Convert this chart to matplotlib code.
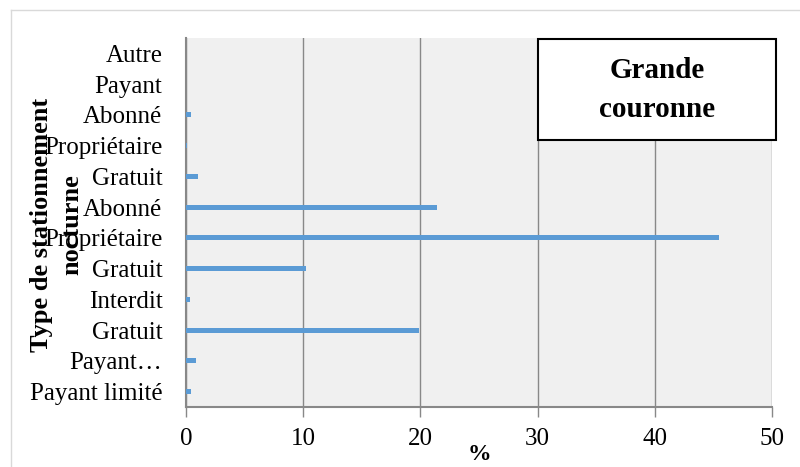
import matplotlib.pyplot as plt
from matplotlib.patches import Rectangle
from matplotlib.lines import Line2D

# categories from bottom to top
categories = ["Payant limité", "Payant…", "Gratuit", "Interdit", "Gratuit",
              "Propriétaire", "Abonné", "Gratuit", "Propriétaire", "Abonné",
              "Payant", "Autre"]
values = [0.4, 0.85, 19.9, 0.3, 10.2, 45.5, 21.4, 1.0, 0.1, 0.4, 0.0, 0.0]
xticks = [0, 10, 20, 30, 40, 50]

plt.rcParams['font.family'] = ['Liberation Serif', 'DejaVu Serif']

fig = plt.figure(figsize=(8, 4.67), dpi=100)
ax = fig.add_axes([186 / 800, 1 - 407 / 467, (772 - 186) / 800, (407 - 38) / 467])

ypos = list(range(len(categories)))
ax.barh(ypos, values, height=0.17, color="#5B9BD5", zorder=3)
ax.set_ylim(-0.5, len(categories) - 0.5)
ax.set_xlim(0, 50)
ax.set_facecolor("#F0F0F0")

ax.set_xticks(xticks)
ax.set_xticklabels([str(t) for t in xticks], fontsize=18)
ax.set_yticks(ypos)
ax.set_yticklabels(categories, fontsize=18)
ax.tick_params(axis='y', length=0, pad=17)
ax.tick_params(axis='x', length=7, width=1, color="#888888", direction='out', pad=8)
ax.grid(axis='x', color="#888888", linewidth=1, zorder=1)
for s in ["top", "right"]:
    ax.spines[s].set_visible(False)
for s in ["left", "bottom"]:
    ax.spines[s].set_color("#888888")
    ax.spines[s].set_linewidth(1.5)

ax.set_xlabel("%", fontsize=17, fontweight='bold', labelpad=-4)
fig.text(57 / 800, 1 - 225 / 467, "Type de stationnement\nnocturne", rotation=90,
         ha='center', va='center', fontsize=19, fontweight='bold', linespacing=1.4)

# title box
box = Rectangle((538 / 800, 1 - 140 / 467), (776 - 538) / 800, (140 - 39) / 467,
                transform=fig.transFigure, facecolor='white', edgecolor='black',
                linewidth=1.5, zorder=5)
fig.add_artist(box)
fig.text(657 / 800, 1 - 90 / 467, "Grande\ncouronne", ha='center', va='center',
         fontsize=21, fontweight='bold', linespacing=1.55, zorder=8)

# outer frame lines
fig.add_artist(Line2D([11 / 800, 1], [1 - 10 / 467, 1 - 10 / 467], transform=fig.transFigure,
                      color="#D9D9D9", linewidth=1))
fig.add_artist(Line2D([11 / 800, 11 / 800], [0, 1 - 10 / 467], transform=fig.transFigure,
                      color="#D9D9D9", linewidth=1))

fig.savefig("out.png", dpi=100)
